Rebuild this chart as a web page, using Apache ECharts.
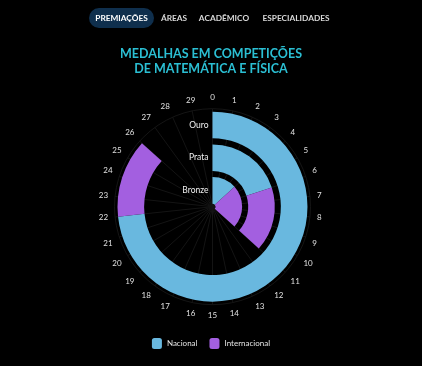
<!DOCTYPE html>
<html>
<head>
<meta charset="utf-8">
<script src="https://cdn.jsdelivr.net/npm/echarts@6/dist/echarts.min.js"></script>
<style>
html,body{margin:0;padding:0;background:#000;}
#c{width:422px;height:366px;}
</style>
</head>
<body>
<div id="c"></div>
<script>
var tabs = ['PREMIAÇÕES', 'ÁREAS', 'ACADÊMICO', 'ESPECIALIDADES'];
var titleLines = ['MEDALHAS EM COMPETIÇÕES', 'DE MATEMÁTICA E FÍSICA'];
var medalCategories = ['Bronze', 'Prata', 'Ouro'];
var seriesNames = ['Nacional', 'Internacional'];
var nacional = [4, 6, 22];
var internacional = [7, 5, 4];
var angleMax = 30;

var chart = echarts.init(document.getElementById('c'), null, {renderer: 'canvas'});
var tabX = [121.5, 174, 224, 296];
var graphics = [{
  type: 'rect', shape: {x: 89, y: 8, width: 65, height: 20, r: 10},
  style: {fill: '#0f2f4d'}
}];
tabs.forEach(function (t, i) {
  graphics.push({
    type: 'text', x: tabX[i], y: 18,
    style: {text: t, fill: i === 0 ? '#ffffff' : '#d8d8d8', font: 'bold 8.3px Lato',
      align: 'center', verticalAlign: 'middle'}
  });
});

chart.setOption({
  backgroundColor: '#000',
  animation: false,
  title: {
    text: titleLines.join('\n'),
    left: 'center', top: 42,
    textStyle: {color: '#2bbfd3', fontFamily: 'Lato', fontWeight: 'bold', fontSize: 12.5, lineHeight: 14.5}
  },
  graphic: graphics,
  legend: {
    data: seriesNames,
    left: 'center', top: 333,
    itemWidth: 10, itemHeight: 11, itemGap: 12,
    icon: 'roundRect',
    textStyle: {color: '#e6e6e6', fontFamily: 'Lato', fontSize: 8}
  },
  polar: {center: [212.5, 206.7], radius: 98},
  angleAxis: {
    type: 'value', min: 0, max: angleMax, interval: 1, startAngle: 90, clockwise: true,
    axisLine: {show: true, lineStyle: {color: '#151515'}},
    axisTick: {show: false},
    splitLine: {show: true, lineStyle: {color: '#141414', width: 1}},
    axisLabel: {color: '#e0e0e0', fontFamily: 'Lato', fontSize: 8, margin: 7,
      formatter: function (v) { return v >= angleMax ? '' : String(v); }}
  },
  radiusAxis: {
    type: 'category', data: medalCategories,
    axisLine: {show: false}, axisTick: {show: false}, splitLine: {show: false},
    axisLabel: {color: '#f0f0f0', fontFamily: 'Lato', fontSize: 8.5, margin: 4, interval: 0, hideOverlap: false},
    z: 10
  },
  series: [
    {type: 'bar', name: seriesNames[0], coordinateSystem: 'polar', stack: 'm', data: nacional,
      barWidth: 26.6, itemStyle: {color: '#69b8df'}},
    {type: 'bar', name: seriesNames[1], coordinateSystem: 'polar', stack: 'm', data: internacional,
      barWidth: 26.6, itemStyle: {color: '#a35fe0'}}
  ]
});
</script>
</body>
</html>
